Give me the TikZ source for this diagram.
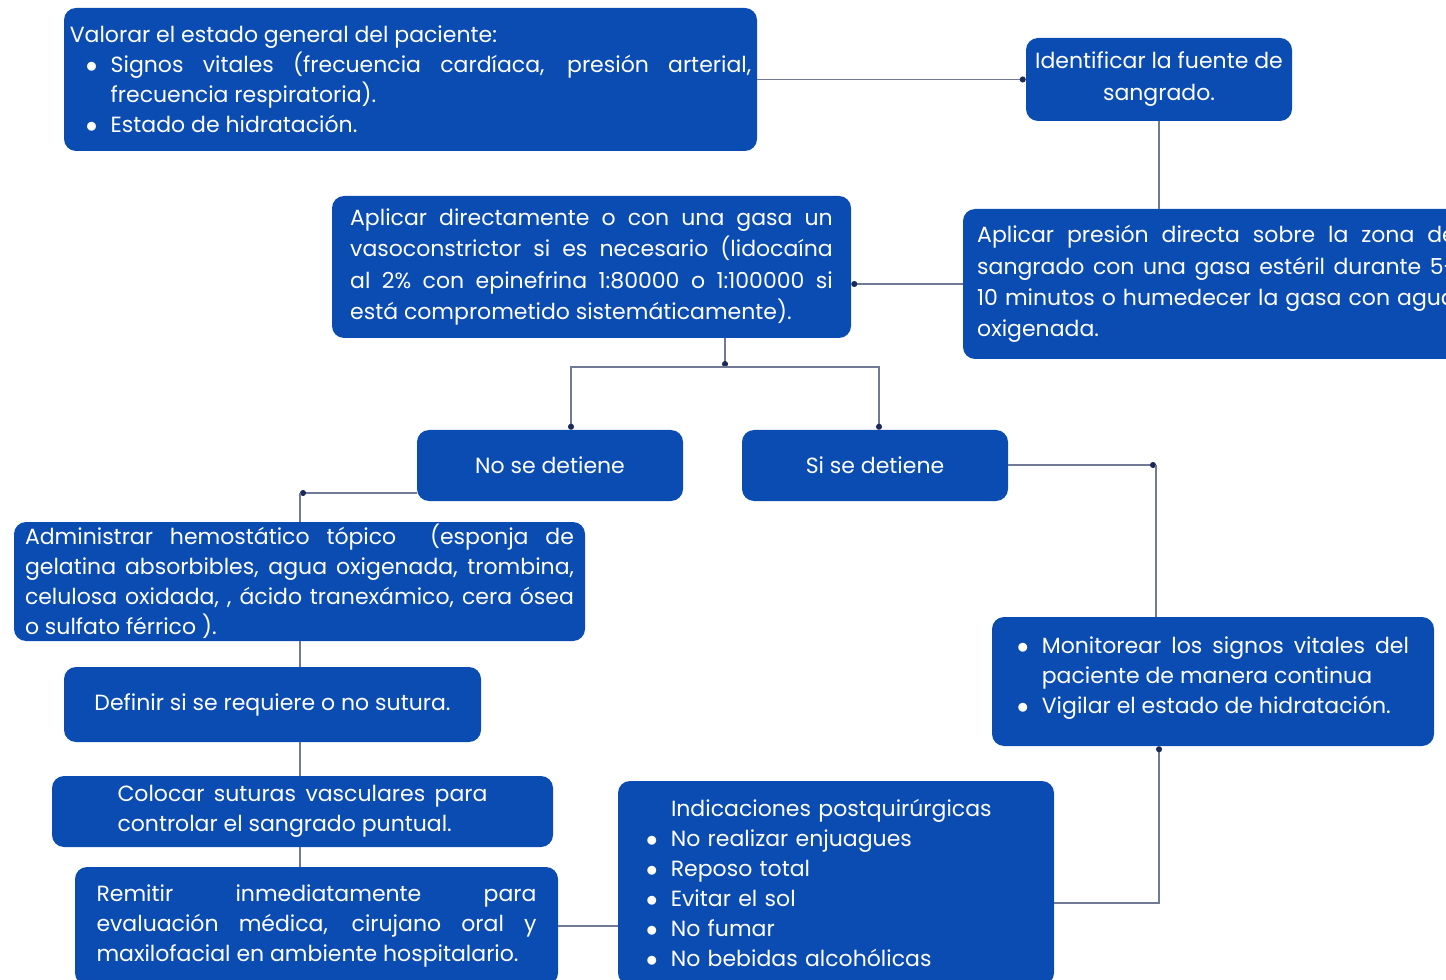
\documentclass[tikz,border=0pt]{standalone}
\usepackage{fontspec}
\setmainfont{Poppins}
\usepackage{enumitem}
\usetikzlibrary{arrows.meta}
\definecolor{cajaazul}{RGB}{10,76,178}
\definecolor{lineagris}{RGB}{112,122,150}
\definecolor{puntonavy}{RGB}{28,42,90}
\hyphenpenalty=10000
\exhyphenpenalty=10000
\setlist[itemize]{label=$\bullet$, topsep=0pt, itemsep=0pt, parsep=0pt, partopsep=0pt, leftmargin=*, labelsep=10pt}
\tikzset{
  caja/.style={rectangle, fill=cajaazul, text=white, rounded corners=9pt, inner sep=0pt, font=\fontsize{16.5}{22.5}\selectfont},
  linea/.style={draw=lineagris, line width=1.1pt},
  punto/.style={-{Circle[length=4.5pt, color=puntonavy]}},
}

\begin{document}
\begin{tikzpicture}[x=0.75pt, y=-0.75pt]
    \useasboundingbox (0,0) rectangle (1446,980);

    % Caja valorar
    \node[caja, minimum width=519.75pt, minimum height=107.25pt, text width=511pt, align=justify] (valor) at (410.5,79.5) {%
        Valorar el estado general del paciente:
        \begin{itemize}[labelindent=12pt]
        \item Signos vitales (frecuencia cardíaca, presión arterial,\linebreak frecuencia respiratoria).
        \item Estado de hidratación.
        \end{itemize}};

    % Caja identificar
    \node[caja, minimum width=199.5pt, minimum height=62.25pt, align=center, font=\fontsize{16.5}{24}\selectfont] (ident) at (1159,79.5) {Identificar la fuente de\\sangrado.};

    % Caja presion directa
    \node[caja, minimum width=380.25pt, minimum height=112.5pt, text width=359pt, align=justify, font=\fontsize{16.5}{23.4}\selectfont] (apres) at (1216.5,284) {Aplicar presión directa sobre la zona de\linebreak sangrado con una gasa estéril durante 5-\linebreak 10 minutos o humedecer la gasa con agua\linebreak oxigenada.};

    % Caja vasoconstrictor
    \node[caja, minimum width=389.25pt, minimum height=106.5pt, text width=362pt, align=justify, font=\fontsize{16.5}{23.6}\selectfont] (apdir) at (591.5,267) {Aplicar directamente o con una gasa un\linebreak vasoconstrictor si es necesario (lidocaína\linebreak al 2\% con epinefrina 1:80000 o 1:100000 si\linebreak está comprometido sistemáticamente).};

    % Cajas de decision
    \node[caja, minimum width=199.5pt, minimum height=53.25pt] (nodet) at (550,465.5) {No se detiene};
    \node[caja, minimum width=199.5pt, minimum height=53.25pt] (sidet) at (875,465.5) {Si se detiene};

    % Rama izquierda
    \node[caja, minimum width=428.25pt, minimum height=89.25pt, text width=411.75pt, align=justify] (admin) at (299.5,581.5) {Administrar hemostático tópico \ (esponja de\linebreak gelatina absorbibles, agua oxigenada, trombina,\linebreak celulosa oxidada, , ácido tranexámico, cera ósea\linebreak o sulfato férrico ).};
    \node[caja, minimum width=312.75pt, minimum height=56.25pt] (defin) at (272.5,704.5) {Definir si se requiere o no sutura.};
    \node[caja, minimum width=375.75pt, minimum height=53.25pt, text width=277.5pt, align=justify] (coloc) at (302.5,811.5) {Colocar suturas vasculares para\linebreak controlar el sangrado puntual.};
    \node[caja, minimum width=362.25pt, minimum height=88.5pt, text width=330pt, align=justify] (remit) at (316.5,926) {Remitir inmediatamente para\linebreak evaluación médica, cirujano oral y\linebreak maxilofacial en ambiente hospitalario.};

    % Rama derecha
    \node[caja, minimum width=331.5pt, minimum height=96.75pt, text width=294pt, align=justify] (monit) at (1213,681.5) {%
        \begin{itemize}
        \item Monitorear los signos vitales del\linebreak paciente de manera continua
        \item Vigilar el estado de hidratación.
        \end{itemize}
        \vspace*{15pt}};
    \node[caja, minimum width=327pt, minimum height=153pt, text width=285pt, align=left] (indic) at (836,883) {%
        \hspace*{18.75pt}Indicaciones postquirúrgicas
        \begin{itemize}
        \item No realizar enjuagues
        \item Reposo total
        \item Evitar el sol
        \item No fumar
        \item No bebidas alcohólicas
        \end{itemize}};

    % Puntos de union
    \coordinate (bif) at (725,367);
    \coordinate (esq1) at (300,493);
    \coordinate (esq2) at (1156,465);
    \coordinate (esq3) at (1159,903);

    % Conectores
    \draw[linea, punto] (valor.east) -- (ident.west);
    \draw[linea] (ident.south) -- (apres.north -| ident.south);
    \draw[linea, punto] (apres.west) -- (apdir.east |- apres.west);
    \draw[linea, punto] (apdir.south -| bif) -- (bif);
    \draw[linea, punto] (bif) -| ([xshift=15.75pt]nodet.north);
    \draw[linea, punto] (bif) -| ([xshift=3pt]sidet.north);
    \draw[linea, punto] (nodet.west |- esq1) -- (esq1);
    \draw[linea] (esq1) -- (admin.north -| esq1);
    \draw[linea, punto] (sidet.east |- esq2) -- (esq2);
    \draw[linea] (esq2) -- (monit.north -| esq2);
    \draw[linea] (admin.south -| esq1) -- (defin.north -| esq1);
    \draw[linea] (defin.south -| esq1) -- (coloc.north -| esq1);
    \draw[linea] (coloc.south -| esq1) -- (remit.north -| esq1);
    \draw[linea] (remit.east) -- (indic.west |- remit.east);
    \draw[linea, punto] (indic.east |- esq3) -- (esq3) -- (esq3 |- monit.south);
\end{tikzpicture}
\end{document}
